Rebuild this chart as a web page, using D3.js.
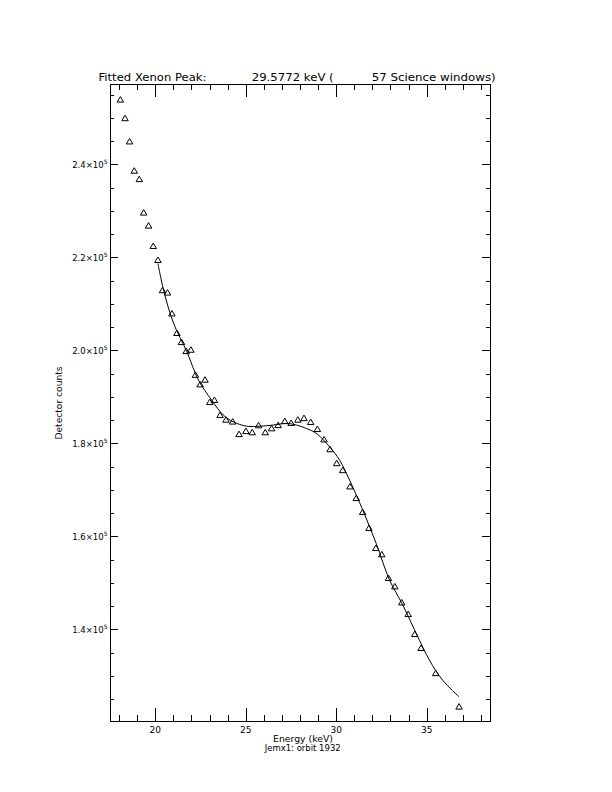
<!DOCTYPE html>
<html><head><meta charset="utf-8">
<script src="https://cdn.jsdelivr.net/npm/d3@7"></script>
<style>
body{margin:0;background:#fff}
text{font-family:"DejaVu Sans",sans-serif;fill:#000}
</style>
</head><body>
<svg id="c" width="612" height="792" xmlns="http://www.w3.org/2000/svg"></svg>
<script>
// ---- data ----
const energy = [18.07,18.33,18.58,18.84,19.12,19.36,19.63,19.89,20.15,20.40,20.68,20.92,21.20,21.45,21.71,21.97,22.22,22.48,22.75,23.01,23.27,23.58,23.91,24.28,24.63,25.01,25.36,25.71,26.08,26.43,26.79,27.16,27.51,27.88,28.22,28.59,28.96,29.33,29.66,30.03,30.36,30.76,31.11,31.46,31.81,32.19,32.52,32.89,33.24,33.62,33.98,34.34,34.69,35.50,36.79];
const counts = [254000,250000,245000,238700,236900,229700,226900,222500,219500,213000,212500,208000,203800,201850,199900,200200,194800,192750,193750,188950,189400,186150,185150,184750,182050,182700,182450,183950,182450,183300,184000,184850,184450,185150,185500,184650,183150,180900,178800,175800,174300,170800,168300,165300,161850,157550,156200,151100,149300,145850,143350,139050,136050,130650,123450];
const fitEnergy = [20.15,20.46,21.01,21.75,22.39,23.12,23.76,24.31,25.05,25.78,26.52,27.25,27.81,28.36,28.91,29.64,30.19,30.74,31.47,32.21,32.95,33.68,34.42,35.15,35.88,36.79];
const fitCounts = [218710,212970,205870,199700,193600,189300,186100,184650,183700,183700,183950,184300,183950,183200,182150,179250,176400,172100,165650,158500,150600,145250,139150,133400,129100,125500];
const xMajorTicks = [20,25,30,35];
const xTickLabels = ["20","25","30","35"];
const yMajorTicks = [140000,160000,180000,200000,220000,240000];
const yTickLabels = ["1.4","1.6","1.8","2.0","2.2","2.4"];
const yTickExp = "5";
const titleParts = ["Fitted Xenon Peak:","29.5772 keV (","57 Science windows)"];
const xTitle = "Energy (keV)";
const subTitle = "Jemx1: orbit 1932";
const yTitle = "Detector counts";

// ---- layout ----
const L = 110, R = 490, T = 84, B = 721;
const svg = d3.select("#c");
const x = d3.scaleLinear().domain([17.5, 38.5]).range([L, R]);
const y = d3.scaleLinear().domain([120300, 257300]).range([B, T]);
const xMinor = d3.range(18, 39, 1);
const yMinor = d3.range(125000, 257300, 5000);
const tlX = 12.7, tlY = 7.6;

function styleAxis(g){
  g.select(".domain").remove();
  g.selectAll("line").attr("stroke","#000").attr("stroke-width",1).attr("shape-rendering","crispEdges");
  g.selectAll("text").remove();
}
// bottom
svg.append("g").attr("transform",`translate(0,${B})`).call(d3.axisBottom(x).tickValues(xMinor).tickSize(-tlX/2).tickSizeOuter(0)).call(styleAxis);
svg.append("g").attr("transform",`translate(0,${B})`).call(d3.axisBottom(x).tickValues(xMajorTicks).tickSize(-tlX).tickSizeOuter(0)).call(styleAxis);
// top
svg.append("g").attr("transform",`translate(0,${T})`).call(d3.axisTop(x).tickValues(xMinor).tickSize(-tlX/2).tickSizeOuter(0)).call(styleAxis);
svg.append("g").attr("transform",`translate(0,${T})`).call(d3.axisTop(x).tickValues(xMajorTicks).tickSize(-tlX).tickSizeOuter(0)).call(styleAxis);
// left
svg.append("g").attr("transform",`translate(${L},0)`).call(d3.axisLeft(y).tickValues(yMinor).tickSize(-tlY/2).tickSizeOuter(0)).call(styleAxis);
svg.append("g").attr("transform",`translate(${L},0)`).call(d3.axisLeft(y).tickValues(yMajorTicks).tickSize(-tlY).tickSizeOuter(0)).call(styleAxis);
// right
svg.append("g").attr("transform",`translate(${R},0)`).call(d3.axisRight(y).tickValues(yMinor).tickSize(-tlY/2).tickSizeOuter(0)).call(styleAxis);
svg.append("g").attr("transform",`translate(${R},0)`).call(d3.axisRight(y).tickValues(yMajorTicks).tickSize(-tlY).tickSizeOuter(0)).call(styleAxis);
// frame
svg.append("rect").attr("x",L).attr("y",T).attr("width",R-L).attr("height",B-T)
  .attr("fill","none").attr("stroke","#000").attr("stroke-width",1).attr("shape-rendering","crispEdges");

// x tick labels
svg.selectAll(".xl").data(xMajorTicks).enter().append("text")
  .attr("x",d=>x(d)).attr("y",B+11.5).attr("text-anchor","middle")
  .attr("font-size",9).text((d,i)=>xTickLabels[i]);

// y tick labels
yMajorTicks.forEach((v,i)=>{
  const t = svg.append("text").attr("x",L-2.5).attr("y",y(v)+3.2)
    .attr("text-anchor","end").attr("font-size",8.5);
  t.append("tspan").text(yTickLabels[i]+"\u00d710");
  t.append("tspan").attr("font-size",6).attr("dy",-3.5).text(yTickExp);
});

// titles
const tx = [98.5, 251.7, 371.7], tw = [108, 82, 124];
titleParts.forEach((s,i)=>{
  svg.append("text").attr("x",tx[i]).attr("y",81).attr("font-size",10.5)
    .attr("textLength",tw[i]).attr("lengthAdjust","spacingAndGlyphs").text(s);
});
svg.append("text").attr("x",303).attr("y",742).attr("text-anchor","middle").attr("font-size",8.5)
  .attr("textLength",60).attr("lengthAdjust","spacingAndGlyphs").text(xTitle);
svg.append("text").attr("x",302.7).attr("y",751).attr("text-anchor","middle").attr("font-size",8.5)
  .attr("textLength",76).attr("lengthAdjust","spacingAndGlyphs").text(subTitle);
svg.append("text").attr("transform",`translate(62,403) rotate(-90)`).attr("text-anchor","middle")
  .attr("font-size",8.5).attr("textLength",73).attr("lengthAdjust","spacingAndGlyphs").text(yTitle);

// fit curve
const fit = fitEnergy.map((e,i)=>[e,fitCounts[i]]);
svg.append("path").datum(fit)
  .attr("d", d3.line().x(d=>x(d[0])).y(d=>y(d[1])).curve(d3.curveCatmullRom.alpha(0.5)))
  .attr("fill","none").attr("stroke","#000").attr("stroke-width",1);

// data triangles
const w = 6.5, h = 5.5;
svg.selectAll(".pt").data(energy).enter().append("path")
  .attr("transform",(d,i)=>`translate(${x(d)},${y(counts[i])})`)
  .attr("d",`M0,${-h/2}L${w/2},${h/2}L${-w/2},${h/2}Z`)
  .attr("fill","none").attr("stroke","#000").attr("stroke-width",1);
</script>
</body></html>
